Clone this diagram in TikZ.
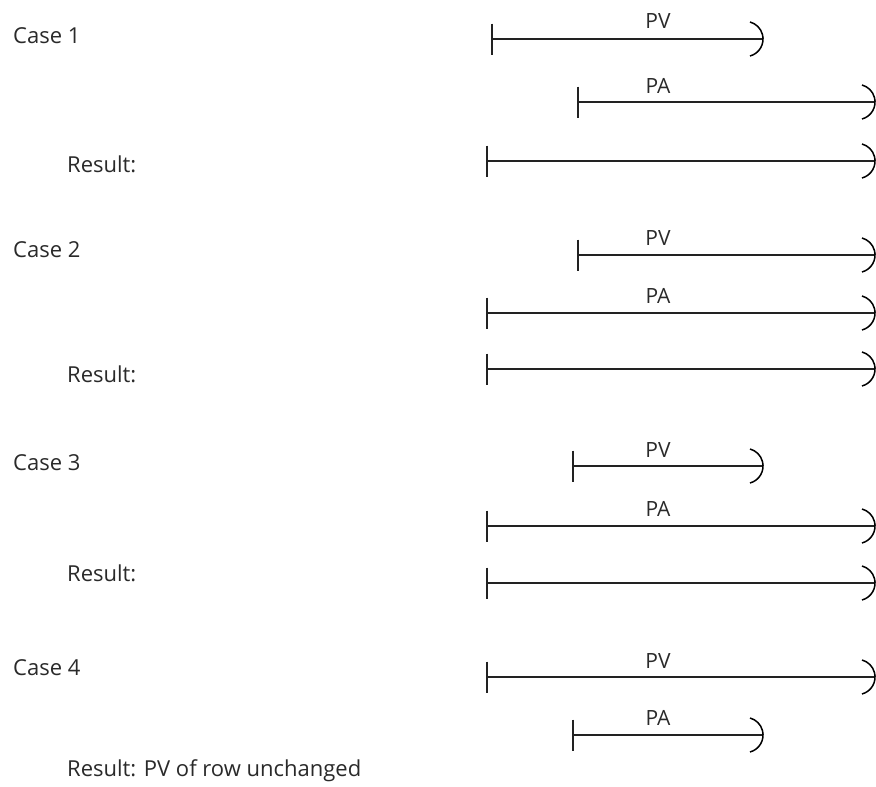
\documentclass[tikz,border=0pt]{standalone}
\usepackage{fontspec}
\setmainfont{Open Sans}
\usetikzlibrary{calc}

% Colours
\definecolor{rulecol}{HTML}{222222}
\definecolor{textcol}{HTML}{2A2A2A}

\tikzset{
  spanrule/.style={draw=rulecol, line width=1.5pt},
  spancap/.style={draw=black, line width=1.5pt},
  casetext/.style={anchor=base west, inner sep=0pt, text=textcol, font=\fontsize{22}{25}\selectfont},
  spanlabel/.style={anchor=base, inner sep=0pt, text=textcol, font=\fontsize{21}{24}\selectfont},
}

% \periodspan{name}{start x}{end x}{y}{label}{label baseline y}
% draws one period: a start tick, the span line and a rounded open end
\newcommand\periodspan[6]{%
  \coordinate (#1s) at (#2,#4);
  \coordinate (#1e) at (#3,#4);
  \draw[spanrule] (#1s) -- (#1e);
  \draw[spanrule] ($(#1s)+(0pt,15.5pt)$) -- ($(#1s)+(0pt,-15.5pt)$);
  \draw[spancap] ($(#1e)+(-13pt,-17pt)$) arc[start angle=-75, end angle=75, radius=17.6pt];
  \ifx\relax#5\relax\else
    \node[spanlabel] (#1l) at (658,#6) {#5};
  \fi
}

\begin{document}
\begin{tikzpicture}[x=1pt, y=-1pt]
  \useasboundingbox (0,0) rectangle (876,787);

  % Case 1
  \node[casetext] (case1) at (13,43) {Case 1};
  \periodspan{c1pv}{492}{763}{39}{PV}{28}
  \periodspan{c1pa}{578}{875}{102}{PA}{93}
  \node[casetext] (res1) at (67,172) {Result:};
  \periodspan{c1rs}{487}{875}{161}{}{}

  % Case 2
  \node[casetext] (case2) at (13,257) {Case 2};
  \periodspan{c2pv}{578}{875}{255}{PV}{245}
  \periodspan{c2pa}{487}{875}{313}{PA}{303}
  \node[casetext] (res2) at (67,382) {Result:};
  \periodspan{c2rs}{487}{875}{369}{}{}

  % Case 3
  \node[casetext] (case3) at (13,470) {Case 3};
  \periodspan{c3pv}{573}{763}{466}{PV}{457}
  \periodspan{c3pa}{487}{875}{526}{PA}{516}
  \node[casetext] (res3) at (67,581) {Result:};
  \periodspan{c3rs}{487}{875}{583}{}{}

  % Case 4
  \node[casetext] (case4) at (13,675) {Case 4};
  \periodspan{c4pv}{487}{875}{677}{PV}{668}
  \periodspan{c4pa}{573}{763}{735}{PA}{725}
  \node[casetext] (res4) at (67,776) {Result: PV of row unchanged};
\end{tikzpicture}
\end{document}
